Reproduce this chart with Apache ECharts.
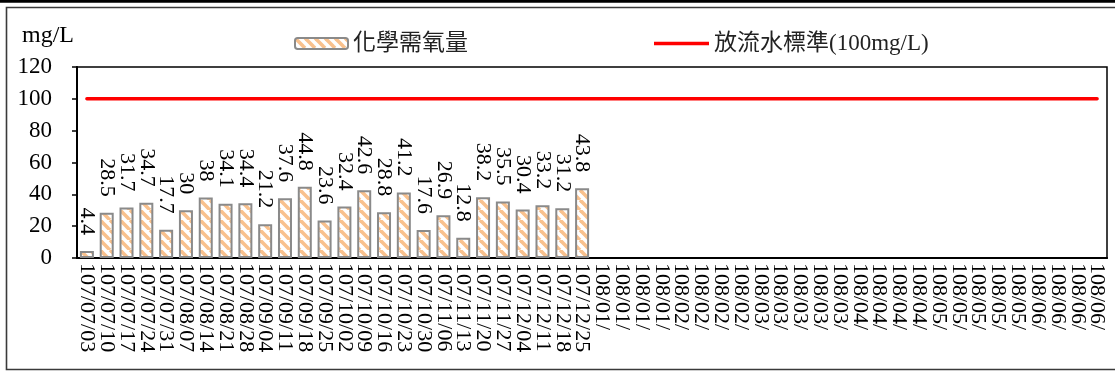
<!DOCTYPE html>
<html>
<head>
<meta charset="utf-8">
<script src="https://cdn.jsdelivr.net/npm/echarts@6/dist/echarts.min.js"></script>
<style>html,body{margin:0;padding:0;background:#fff}#c{width:1115px;height:372px}</style>
</head>
<body>
<div id="c"></div>
<script>
const categories = [
  '107/07/03','107/07/10','107/07/17','107/07/24','107/07/31','107/08/07','107/08/14','107/08/21','107/08/28',
  '107/09/04','107/09/11','107/09/18','107/09/25','107/10/02','107/10/09','107/10/16','107/10/23','107/10/30',
  '107/11/06','107/11/13','107/11/20','107/11/27','107/12/04','107/12/11','107/12/18','107/12/25',
  '108/01/','108/01/','108/01/','108/01/','108/02/','108/02/','108/02/','108/02/',
  '108/03/','108/03/','108/03/','108/03/','108/03/','108/04/','108/04/','108/04/','108/04/',
  '108/05/','108/05/','108/05/','108/05/','108/05/','108/06/','108/06/','108/06/','108/06/'
];
const codValues = [4.4, 28.5, 31.7, 34.7, 17.7, 30, 38, 34.1, 34.4, 21.2, 37.6, 44.8, 23.6,
  32.4, 42.6, 28.8, 41.2, 17.6, 26.9, 12.8, 38.2, 35.5, 30.4, 33.2, 31.2, 43.8];
const standardValue = 100;
const standardValues = categories.map(() => standardValue);
const yTicks = { min: 0, max: 120, interval: 20 };
const codName = '化學需氧量';
const stdName = '放流水標準(100mg/L)';
const unitLabel = 'mg/L';

const serif = "'Liberation Serif','Times New Roman','Noto Sans CJK TC',serif";

// diagonal stripe pattern
const pc = document.createElement('canvas');
pc.width = 10; pc.height = 10;
const g = pc.getContext('2d');
g.fillStyle = '#ffffff'; g.fillRect(0, 0, 10, 10);
g.strokeStyle = '#F9C18D'; g.lineWidth = 3.6;
for (const o of [-10, 0, 10]) { g.beginPath(); g.moveTo(o, 0); g.lineTo(o + 10, 10); g.stroke(); }

const chart = echarts.init(document.getElementById('c'));
chart.setOption({
  animation: false,
  backgroundColor: '#ffffff',
  title: {
    text: unitLabel, left: 17, top: 19,
    textStyle: { fontFamily: serif, fontSize: 24, fontWeight: 'normal', color: '#000' }
  },
  graphic: [
    { type: 'rect', shape: { x: 0, y: 0, width: 1115, height: 2.7 }, style: { fill: '#000' }, z: 100 },
    { type: 'rect', shape: { x: 6.5, y: 7.5, width: 1120, height: 362 }, style: { fill: null, stroke: '#3a3a3a', lineWidth: 1.6 }, z: 100 }
  ],
  legend: [
    {
      data: [codName], left: 289, top: 27, itemWidth: 53, itemHeight: 11, itemGap: 4,
      textStyle: { fontFamily: serif, fontSize: 23, color: '#222', padding: [2, 0, 0, 0] }
    },
    {
      data: [{ name: stdName, icon: 'rect' }], left: 649, top: 27, itemWidth: 55, itemHeight: 3.5, itemGap: 4,
      itemStyle: { color: '#FF0000', borderWidth: 0 },
      textStyle: { fontFamily: serif, fontSize: 23, color: '#222', padding: [2, 0, 0, 0] }
    }
  ],
  grid: {
    left: 77, right: 8, top: 67, bottom: 114,
    show: true, borderColor: '#000', borderWidth: 1.5, backgroundColor: 'transparent'
  },
  xAxis: {
    type: 'category', data: categories, boundaryGap: true,
    axisLine: { show: true, lineStyle: { color: '#000', width: 2.2 } },
    axisTick: { show: false },
    axisLabel: { interval: 0, rotate: -90, margin: 5, fontFamily: serif, fontSize: 22, color: '#000' },
    splitLine: { show: false }
  },
  yAxis: {
    type: 'value', min: yTicks.min, max: yTicks.max, interval: yTicks.interval,
    axisLine: { show: true, lineStyle: { color: '#000', width: 2 } },
    axisTick: { show: true, inside: false, length: 5, lineStyle: { color: '#000', width: 1.5 } },
    axisLabel: { margin: 25, fontFamily: serif, fontSize: 23, color: '#000' },
    splitLine: { show: false }
  },
  series: [
    {
      name: codName, type: 'bar', data: codValues, barWidth: 14,
      itemStyle: { color: { image: pc, repeat: 'repeat' }, borderColor: '#8a8a8a', borderWidth: 2 },
      label: {
        show: true, position: 'top', rotate: -90, align: 'right', verticalAlign: 'middle',
        distance: 14, fontFamily: serif, fontSize: 22, color: '#000', offset: [-2, 0]
      }
    },
    {
      name: stdName, type: 'line', data: standardValues, symbol: 'none', showSymbol: false,
      lineStyle: { color: '#FF0000', width: 3.5, cap: 'round' }, itemStyle: { color: '#FF0000' }, z: 5
    }
  ]
});
</script>
</body>
</html>
